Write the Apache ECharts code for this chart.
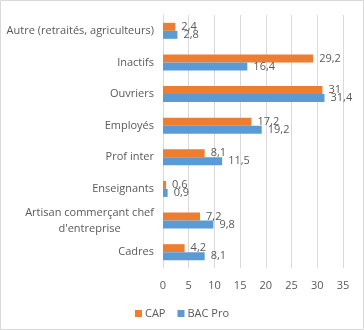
<!DOCTYPE html>
<html><head><meta charset="utf-8">
<script src="https://cdn.jsdelivr.net/npm/echarts@6/dist/echarts.min.js"></script>
<style>html,body{margin:0;padding:0;background:#fff}#c{width:364px;height:330px}</style>
</head><body><div id="c"></div>
<script>
const categories = ['Cadres', "Artisan commerçant chef\nd'entreprise", 'Enseignants', 'Prof inter', 'Employés', 'Ouvriers', 'Inactifs', 'Autre (retraités, agriculteurs)'];
const capValues = [4.2, 7.2, 0.6, 8.1, 17.2, 31, 29.2, 2.4];
const bacProValues = [8.1, 9.8, 0.9, 11.5, 19.2, 31.4, 16.4, 2.8];
const xTicks = [0, 5, 10, 15, 20, 25, 30, 35];

const FONT = 'Open Sans';
const chart = echarts.init(document.getElementById('c'));
const fmt = p => String(p.value).replace('.', ',');
chart.setOption({
  animation: false,
  textStyle: { fontFamily: FONT },
  graphic: [{ type: 'rect', shape: { x: 0.5, y: 0.5, width: 363, height: 329 }, style: { fill: 'none', stroke: '#d9d9d9', lineWidth: 1 }, silent: true }],
  grid: { left: 163, right: 21, top: 15, bottom: 62 },
  legend: {
    data: ['CAP', 'BAC Pro'], bottom: 6, left: 'center', icon: 'rect', itemWidth: 7, itemHeight: 7, itemGap: 12,
    textStyle: { color: '#595959', fontSize: 11, fontFamily: FONT, padding: [0, 0, 0, -2] }
  },
  xAxis: {
    type: 'value', min: xTicks[0], max: xTicks[xTicks.length - 1], interval: 5,
    axisLine: { show: false }, axisTick: { show: false },
    splitLine: { lineStyle: { color: '#d9d9d9' } },
    axisLabel: { color: '#595959', fontSize: 11, margin: 12, fontFamily: FONT }
  },
  yAxis: {
    type: 'category', data: categories,
    axisLine: { lineStyle: { color: '#d9d9d9' } }, axisTick: { show: false },
    axisLabel: {
      color: '#595959', fontSize: 11, margin: 9, fontFamily: FONT, lineHeight: 16,
      formatter: v => v.indexOf('\n') >= 0 ? v.split('\n').map(s => '{c|' + s + '}').join('\n') : v,
      rich: { c: { align: 'center', color: '#595959', fontSize: 11, fontFamily: FONT, lineHeight: 16 } }
    }
  },
  series: [
    { name: 'CAP', type: 'bar', data: capValues, barWidth: 8, barGap: '0%',
      itemStyle: { color: '#ED7D31' },
      label: { show: true, position: 'right', distance: 6, color: '#595959', fontSize: 11, fontFamily: FONT, formatter: fmt } },
    { name: 'BAC Pro', type: 'bar', data: bacProValues, barWidth: 8, barGap: '0%',
      itemStyle: { color: '#5B9BD5' },
      label: { show: true, position: 'right', distance: 6, color: '#595959', fontSize: 11, fontFamily: FONT, formatter: fmt } }
  ]
});
</script></body></html>
